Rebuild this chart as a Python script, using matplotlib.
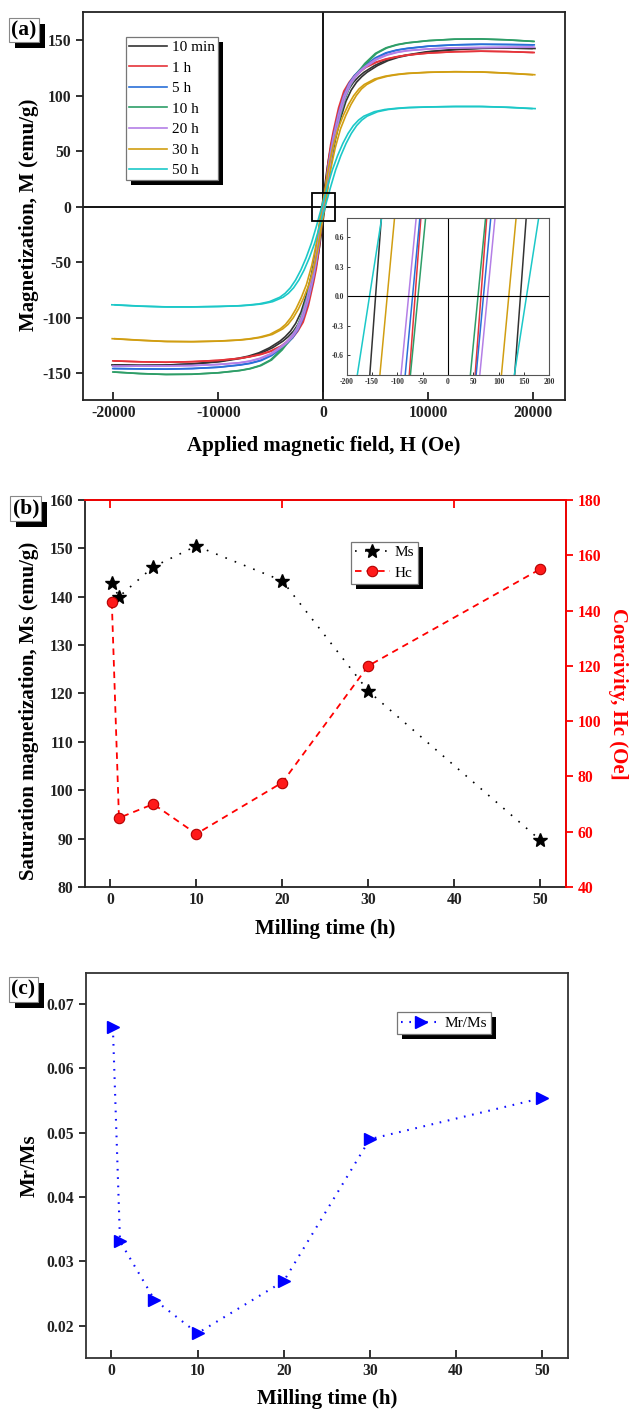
import matplotlib
matplotlib.use("Agg")
import matplotlib.pyplot as plt
from matplotlib.patches import Rectangle
from matplotlib.transforms import IdentityTransform
from matplotlib.ticker import FuncFormatter

plt.rcParams['font.family'] = ['Liberation Serif', 'DejaVu Serif']
plt.rcParams['axes.unicode_minus'] = False

# ---------------- data ----------------
samples = ['10 min', '1 h', '5 h', '10 h', '20 h', '30 h', '50 h']
colors = ['#333333', '#e5343a', '#2a6fd8', '#2e9e68', '#b47fe6', '#d19e12', '#1cc8c8']

# half-curve field offsets (Oe) measured from the coercive point
h_grid = [0, 250, 500, 750, 1000, 1500, 2000, 2500, 3000, 3500, 4000,
          5000, 6000, 7000, 8000, 10000, 12500, 15000, 17500, 20000]
m_10min = [0, 17.5, 35, 49, 61, 80, 95, 105, 112, 117, 121, 127, 131.5, 134.5, 136.5, 139.5, 141.5, 142.6, 142.8, 142.4]
m_1h = [0, 17.5, 40, 56, 68, 89, 104, 112, 118, 122, 125.5, 130, 133, 135, 136.5, 138.3, 139.5, 140, 139.6, 138.8]
m_5h = [0, 13.8, 35, 50, 63, 84, 100, 111, 118, 123, 127, 134, 138.5, 141, 142.5, 144.5, 145.7, 146.2, 146, 145.7]
m_10h = [0, 13.3, 33, 47, 60, 80, 97, 109, 117, 123, 129, 138, 143, 145.8, 147.5, 149.5, 150.8, 151, 150.2, 148.8]
m_20h = [0, 13.3, 34, 49, 62, 83, 99, 110, 117, 122, 126, 132.5, 136.5, 139, 140.5, 142, 143, 143.3, 143.5, 143.6]
m_30h = [0, 13.8, 30, 42, 53, 70, 82, 92, 100, 106, 110, 115, 117.5, 119, 120, 121, 121.5, 121.3, 120.2, 118.8]
m_50h = [0, 8.3, 17, 25, 33, 46, 57, 66, 73, 78, 81.5, 85.5, 87.5, 88.5, 89.2, 89.8, 90.2, 90.2, 89.5, 88.3]
m_curves = [m_10min, m_1h, m_5h, m_10h, m_20h, m_30h, m_50h]

milling_time = [0.17, 1, 5, 10, 20, 30, 50]
Ms = [142.8, 140.0, 146.2, 150.5, 143.3, 120.5, 89.7]
Hc = [143, 65, 70, 59.2, 77.8, 120, 155]
MrMs = [0.0664, 0.0331, 0.0240, 0.0188, 0.0269, 0.0490, 0.0554]

# ---------------- figure ----------------
W, H = 632, 1410
fig = plt.figure(figsize=(W / 100, H / 100), dpi=100)


def ax_rect(x0, y0, x1, y1):
    return [x0 / W, 1 - y1 / H, (x1 - x0) / W, (y1 - y0) / H]


TICK_FS = 11.3
LAB_FS = 15
spine_c = '#222222'

axA = fig.add_axes(ax_rect(83, 12.3, 565, 400))
axIn = fig.add_axes(ax_rect(346.7, 217.7, 549.3, 375))
axIn.set_zorder(5)
axB = fig.add_axes(ax_rect(85, 500, 566, 887))
axB2 = axB.twinx()
axC = fig.add_axes(ax_rect(86, 972.7, 568, 1358.3))


def bold_ticks(ax, size=TICK_FS, color=None):
    for lab in ax.get_xticklabels() + ax.get_yticklabels():
        lab.set_fontweight('bold')
        lab.set_fontsize(size)
        if color:
            lab.set_color(color)


def branches(m, hc):
    hf = [-h for h in reversed(h_grid[1:])] + list(h_grid)
    mf = [-v for v in reversed(m[1:])] + list(m)
    desc = ([h - hc for h in hf], mf)
    asc = ([h + hc for h in hf], mf)
    return desc, asc


# ---------- panel (a) ----------
for m, hc, c, lab in zip(m_curves, Hc, colors, samples):
    (hd, md), (ha, ma) = branches(m, hc)
    axA.plot(hd, md, color=c, lw=1.2, label=lab)
    axA.plot(ha, ma, color=c, lw=1.2)
    axIn.plot(hd, md, color=c, lw=1.1)
    axIn.plot(ha, ma, color=c, lw=1.1)

axA.axhline(0, color='k', lw=1.3, zorder=1)
axA.axvline(0, color='k', lw=1.3, zorder=1)
axA.add_patch(Rectangle((-1050, -12.5), 2100, 25, fill=False, ec='k', lw=1.3, zorder=4))
axA.set_xlim(-22900, 23000)
axA.set_ylim(-174, 175)
axA.set_xticks([-20000, -10000, 0, 10000, 20000])
axA.set_yticks([-150, -100, -50, 0, 50, 100, 150])
axA.tick_params(axis='x', direction='in', length=6, width=1.3, top=False, colors=spine_c)
axA.tick_params(axis='y', direction='out', length=5, width=1.3, right=False, colors=spine_c)
bold_ticks(axA)
for s in axA.spines.values():
    s.set_linewidth(1.3)
    s.set_color(spine_c)
axA.set_xlabel('Applied magnetic field, H (Oe)', fontsize=LAB_FS, fontweight='bold')
axA.set_ylabel('Magnetization, M (emu/g)', fontsize=LAB_FS, fontweight='bold')
axA.xaxis.set_label_coords(0.5, -0.092)
axA.yaxis.set_label_coords(-0.092, 0.477)
legA = axA.legend(loc='upper left', bbox_to_anchor=(0.0895, 0.9356), borderaxespad=0,
                  fontsize=11, frameon=True, fancybox=False, framealpha=1,
                  edgecolor='#777777', handlelength=2.45, handletextpad=0.35,
                  labelspacing=0.45, borderpad=0.2)
legA.get_frame().set_linewidth(0.9)

# inset
axIn.axhline(0, color='k', lw=0.8)
axIn.axvline(0, color='k', lw=0.8)
axIn.set_xlim(-200, 200)
axIn.set_ylim(-0.8, 0.8)
axIn.set_xticks([-200, -150, -100, -50, 0, 50, 100, 150, 200])
axIn.set_yticks([-0.6, -0.3, 0.0, 0.3, 0.6])
axIn.yaxis.set_major_formatter(FuncFormatter(lambda v, p: f'{v:.1f}'))
axIn.tick_params(direction='in', length=2.5, width=0.7, pad=2, colors='#333333')
bold_ticks(axIn, size=5.5)
for s in axIn.spines.values():
    s.set_linewidth(0.8)
    s.set_color('#555555')

# ---------- panel (b) ----------
lMs, = axB.plot(milling_time, Ms, color='k', lw=1.2, dashes=(1, 5), marker='*',
                ms=10, mfc='k', mec='k', label='Ms')
lHc, = axB2.plot(milling_time, Hc, color='red', lw=1.3, dashes=(3.6, 2.8), marker='o',
                 ms=7.5, mfc='#ff1a1a', mec='#b30000', mew=0.8, label='Hc')
axB.set_xlim(-2.95, 53)
axB.set_ylim(80, 160)
axB2.set_ylim(40, 180)
axB.set_xticks([0, 10, 20, 30, 40, 50])
axB.set_yticks([80, 90, 100, 110, 120, 130, 140, 150, 160])
axB2.set_yticks([40, 60, 80, 100, 120, 140, 160, 180])
axB.tick_params(axis='x', direction='in', length=6, width=1.3, top=False, colors=spine_c)
axB.tick_params(axis='y', direction='out', length=5, width=1.3, colors=spine_c)
axB2.tick_params(axis='y', direction='out', length=5, width=1.3, colors='red')
bold_ticks(axB)
bold_ticks(axB2, color='red')
for s in axB.spines.values():
    s.set_linewidth(1.3)
    s.set_color(spine_c)
for k, s in axB2.spines.items():
    s.set_linewidth(1.3)
axB2.spines['right'].set_color('red')
axB2.spines['top'].set_color('red')
axB2.spines['left'].set_visible(False)
axB2.spines['bottom'].set_visible(False)
secB = axB.secondary_xaxis('top')
secB.set_xticks([0, 20, 40])
secB.tick_params(direction='in', length=6, width=1.3, colors='red', labeltop=False)
secB.spines['top'].set_visible(False)
axB.set_xlabel('Milling time (h)', fontsize=LAB_FS, fontweight='bold')
axB.set_ylabel('Saturation magnetization, Ms (emu/g)', fontsize=LAB_FS, fontweight='bold')
axB2.set_ylabel('Coercivity, Hc (Oe]', fontsize=LAB_FS, fontweight='bold', color='red',
                rotation=270)
axB.xaxis.set_label_coords(0.5, -0.082)
axB.yaxis.set_label_coords(-0.096, 0.455)
axB2.yaxis.set_label_coords(1.128, 0.5)
legB = axB2.legend([lMs, lHc], ['Ms', 'Hc'], loc='upper left', bbox_to_anchor=(0.553, 0.8925),
                   borderaxespad=0, fontsize=11, frameon=True, fancybox=False, framealpha=1,
                   edgecolor='#777777', handlelength=2.3, handletextpad=0.3,
                   labelspacing=0.45, borderpad=0.25)
legB.get_frame().set_linewidth(0.9)

# ---------- panel (c) ----------
lR, = axC.plot(milling_time, MrMs, color='#1010ff', lw=1.5, dashes=(0.8, 3.2), marker='>',
               ms=9, mfc='#0000ff', mec='#0000ff', label='Mr/Ms')
axC.set_xlim(-2.95, 53)
axC.set_ylim(0.0149, 0.0749)
axC.set_xticks([0, 10, 20, 30, 40, 50])
axC.set_yticks([0.02, 0.03, 0.04, 0.05, 0.06, 0.07])
axC.yaxis.set_major_formatter(FuncFormatter(lambda v, p: f'{v:.2f}'))
axC.tick_params(axis='x', direction='in', length=6, width=1.3, top=False, colors=spine_c)
axC.tick_params(axis='y', direction='out', length=5, width=1.3, right=False, colors=spine_c)
bold_ticks(axC)
for s in axC.spines.values():
    s.set_linewidth(1.3)
    s.set_color('#333333')
axC.set_xlabel('Milling time (h)', fontsize=LAB_FS, fontweight='bold')
axC.set_ylabel('Mr/Ms', fontsize=LAB_FS, fontweight='bold')
axC.xaxis.set_label_coords(0.5, -0.08)
axC.yaxis.set_label_coords(-0.097, 0.5)
legC = axC.legend(loc='upper left', bbox_to_anchor=(0.645, 0.897), borderaxespad=0,
                  fontsize=11, frameon=True, fancybox=False, framealpha=1,
                  edgecolor='#777777', handlelength=2.6, handletextpad=0.3,
                  borderpad=0.25)
legC.get_frame().set_linewidth(0.9)

# panel labels
tA = fig.text(11.5 / W, 1 - 30 / H, '(a)', fontsize=15.5, fontweight='bold', va='center', ha='left',
              bbox=dict(boxstyle='square,pad=0.1', fc='white', ec='#888888', lw=0.8), zorder=10)
tB = fig.text(12.5 / W, 1 - 508.5 / H, '(b)', fontsize=15.5, fontweight='bold', va='center', ha='left',
              bbox=dict(boxstyle='square,pad=0.1', fc='white', ec='#888888', lw=0.8), zorder=10)
tC = fig.text(11.5 / W, 1 - 989.5 / H, '(c)', fontsize=15.5, fontweight='bold', va='center', ha='left',
              bbox=dict(boxstyle='square,pad=0.1', fc='white', ec='#888888', lw=0.8), zorder=10)

# shadows
fig.canvas.draw()
r = fig.canvas.get_renderer()


def add_shadow(bb, parent, z, dx=5, dy=5):
    rect = Rectangle((bb.x0 + dx, bb.y0 - dy), bb.width, bb.height, transform=IdentityTransform(),
                     fc='black', ec='none', zorder=z, clip_on=False)
    parent.add_artist(rect)


for leg, ax in [(legA, axA), (legB, axB2), (legC, axC)]:
    add_shadow(leg.get_frame().get_window_extent(r), ax, 4.9)
for t in [tA, tB, tC]:
    add_shadow(t.get_bbox_patch().get_window_extent(r), fig, 9, dx=6, dy=6)

fig.savefig('out.png', dpi=100)
